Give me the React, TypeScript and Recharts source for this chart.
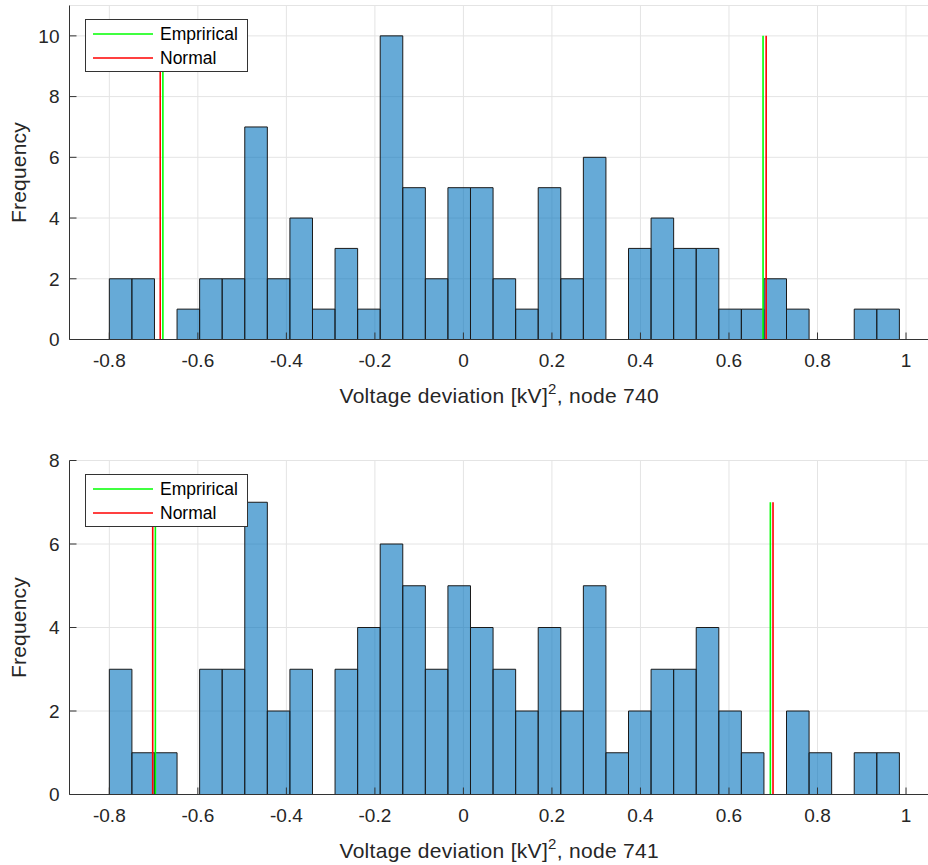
import React from "react";
import {
  CartesianGrid,
  ComposedChart,
  Legend,
  Line,
  ReferenceArea,
  XAxis,
  YAxis,
} from "recharts";

// histogram bin edges (uniform bins)
const binEdges = [
  -0.8, -0.749, -0.698, -0.647, -0.596, -0.545, -0.494, -0.443, -0.392,
  -0.341, -0.29, -0.239, -0.188, -0.137, -0.086, -0.035, 0.016, 0.067, 0.118,
  0.169, 0.22, 0.271, 0.322, 0.373, 0.424, 0.475, 0.526, 0.577, 0.628, 0.679,
  0.73, 0.781, 0.832, 0.883, 0.934, 0.985,
];

const counts740 = [
  2, 2, 0, 1, 2, 2, 7, 2, 4, 1, 3, 1, 10, 5, 2, 5, 5, 2, 1, 5, 2, 6, 0, 3, 4,
  3, 3, 1, 1, 2, 1, 0, 0, 1, 1,
];
const counts741 = [
  3, 1, 1, 0, 3, 3, 7, 2, 3, 0, 3, 4, 6, 5, 3, 5, 4, 3, 2, 4, 2, 5, 1, 2, 3,
  3, 4, 2, 1, 0, 2, 1, 0, 1, 1,
];

// interval bounds: empirical quantiles vs normal fit
const empirical740 = [-0.679, 0.677];
const normal740 = [-0.685, 0.684];
const empirical741 = [-0.696, 0.6935];
const normal741 = [-0.702, 0.6995];

const xTicks = [-0.8, -0.6, -0.4, -0.2, 0, 0.2, 0.4, 0.6, 0.8, 1];
const yTicks740 = [0, 2, 4, 6, 8, 10];
const yTicks741 = [0, 2, 4, 6, 8];

const X_DOMAIN: [number, number] = [-0.89, 1.07];
const AXIS_COLOR = "#333333";
const TEXT_COLOR = "#262626";
const FONT = '"Liberation Sans", Arial, Helvetica, sans-serif';
const TOP_PAD = 20.5;

type MarkerPoint = { v: number; f: number | null };

function markerData(xs: number[], top: number): MarkerPoint[] {
  const out: MarkerPoint[] = [];
  xs.forEach((x) => {
    out.push({ v: x, f: 0 }, { v: x, f: top }, { v: x, f: null });
  });
  return out;
}

function XTitle(props: any) {
  const vb = props.viewBox;
  if (!vb) return null;
  return (
    <text
      x={vb.x + vb.width / 2 - 4}
      y={vb.y + 63}
      textAnchor="middle"
      fontSize={21}
      letterSpacing={0.3}
      fill={TEXT_COLOR}
      fontFamily={FONT}
    >
      Voltage deviation [kV]
      <tspan dy={-9} fontSize={15}>
        2
      </tspan>
      <tspan dy={9}>, node {props.node}</tspan>
    </text>
  );
}

function YTitle(props: any) {
  const vb = props.viewBox;
  if (!vb) return null;
  const cx = 26;
  const cy = vb.y + vb.height / 2;
  return (
    <text
      x={cx}
      y={cy}
      transform={`rotate(-90, ${cx}, ${cy})`}
      textAnchor="middle"
      fontSize={21}
      letterSpacing={0.2}
      fill={TEXT_COLOR}
      fontFamily={FONT}
    >
      Frequency
    </text>
  );
}

function LegendBox({ payload }: any) {
  const items = payload || [];
  return (
    <div
      style={{
        boxSizing: "border-box",
        width: 163,
        height: 53,
        border: `1px solid ${AXIS_COLOR}`,
        background: "#fff",
        paddingTop: 2,
        fontFamily: FONT,
        fontSize: 17.5,
        color: "#000",
      }}
    >
      {items.map((item: any) => (
        <div
          key={item.value}
          style={{ height: 24, display: "flex", alignItems: "center" }}
        >
          <svg width={60} height={4} style={{ marginLeft: 7, display: "block" }}>
            <line x1={0} y1={2} x2={60} y2={2} stroke={item.color} strokeWidth={1.6} />
          </svg>
          <span style={{ marginLeft: 7, lineHeight: "24px" }}>{item.value}</span>
        </div>
      ))}
    </div>
  );
}

type HistProps = {
  counts: number[];
  empirical: number[];
  normal: number[];
  markerTop: number;
  yMax: number;
  yTicks: number[];
  node: string;
};

function Histogram({ counts, empirical, normal, markerTop, yMax, yTicks, node }: HistProps) {
  const empiricalData = markerData(empirical, markerTop);
  const normalData = markerData(normal, markerTop);

  return (
    <ComposedChart
      width={937}
      height={435}
      margin={{ top: TOP_PAD, right: 0, bottom: 0.5, left: 0 }}
    >
      <CartesianGrid stroke="#e4e4e4" strokeWidth={1} />
      <XAxis
        xAxisId="top"
        orientation="top"
        type="number"
        dataKey="v"
        domain={X_DOMAIN}
        allowDataOverflow
        ticks={xTicks}
        interval={0}
        height={0}
        tick={false}
        tickSize={-7}
        stroke={AXIS_COLOR}
      />
      <XAxis
        type="number"
        dataKey="v"
        domain={X_DOMAIN}
        allowDataOverflow
        ticks={xTicks}
        interval={0}
        height={80}
        tickSize={-7}
        tickMargin={21}
        stroke={AXIS_COLOR}
        tick={{ fill: TEXT_COLOR, fontSize: 19, fontFamily: FONT }}
        label={<XTitle node={node} />}
      />
      <YAxis
        type="number"
        domain={[0, yMax]}
        ticks={yTicks}
        interval={0}
        width={69.5}
        tickSize={-7}
        tickMargin={17}
        stroke={AXIS_COLOR}
        tick={{ fill: TEXT_COLOR, fontSize: 19, fontFamily: FONT }}
        label={<YTitle />}
      />
      {counts.map((c, i) =>
        c > 0 ? (
          <ReferenceArea
            key={i}
            x1={binEdges[i]}
            x2={binEdges[i + 1]}
            y1={0}
            y2={c}
            fill="#0072BD"
            fillOpacity={0.6}
            stroke="#1a1a1a"
            strokeWidth={1}
            strokeOpacity={1}
          />
        ) : null
      )}
      <Line
        data={empiricalData}
        dataKey="f"
        name="Emprirical"
        stroke="#00ff00"
        strokeWidth={1.6}
        dot={false}
        activeDot={false}
        legendType="plainline"
        isAnimationActive={false}
      />
      <Line
        data={normalData}
        dataKey="f"
        name="Normal"
        stroke="#ff0000"
        strokeWidth={1.6}
        dot={false}
        activeDot={false}
        legendType="plainline"
        isAnimationActive={false}
      />
      <Legend
        layout="vertical"
        align="center"
        verticalAlign="middle"
        content={<LegendBox />}
        wrapperStyle={{ left: 85, top: TOP_PAD + 13.5, width: 163, height: 53 }}
      />
    </ComposedChart>
  );
}

export default function App() {
  return (
    <div
      style={{
        position: "fixed",
        left: 0,
        top: 0,
        width: 928,
        height: 865,
        overflow: "hidden",
        background: "#fff",
        fontFamily: FONT,
      }}
    >
      <div style={{ position: "absolute", left: 0, top: 5.5 - TOP_PAD }}>
        <Histogram
          counts={counts740}
          empirical={empirical740}
          normal={normal740}
          markerTop={10}
          yMax={11}
          yTicks={yTicks740}
          node="740"
        />
      </div>
      <div style={{ position: "absolute", left: 0, top: 460.5 - TOP_PAD }}>
        <Histogram
          counts={counts741}
          empirical={empirical741}
          normal={normal741}
          markerTop={7}
          yMax={8}
          yTicks={yTicks741}
          node="741"
        />
      </div>
    </div>
  );
}
